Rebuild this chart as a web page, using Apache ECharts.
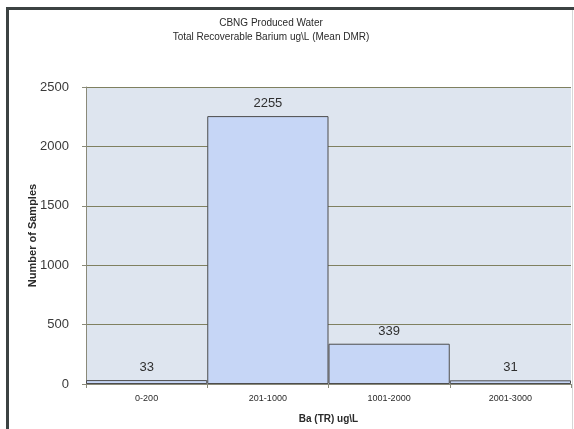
<!DOCTYPE html>
<html>
<head>
<meta charset="utf-8">
<script src="https://cdn.jsdelivr.net/npm/echarts@6/dist/echarts.min.js"></script>
<style>
  html, body { margin: 0; padding: 0; background: #ffffff; }
  #chart { width: 574px; height: 429px; }
</style>
</head>
<body>
<div id="chart"></div>
<script>
// Barium concentration bins and sample counts
const categories = ['0-200', '201-1000', '1001-2000', '2001-3000'];
const sampleCounts = [33, 2255, 339, 31];
const yTicks = { min: 0, max: 2500, interval: 500 };

const titleLines = ['CBNG Produced Water', 'Total Recoverable Barium ug\\L (Mean DMR)'];
const xAxisTitle = 'Ba (TR) ug\\L';
const yAxisTitle = 'Number of Samples';

const chart = echarts.init(document.getElementById('chart'), null, { renderer: 'canvas' });

const font = '"Liberation Sans", Arial, sans-serif';

chart.setOption({
  animation: false,
  backgroundColor: '#ffffff',
  textStyle: { fontFamily: font },
  title: {
    text: titleLines.join('\n'),
    left: 266,
    top: 11,
    textAlign: 'center',
    textStyle: {
      fontFamily: font,
      fontSize: 10,
      fontWeight: 'normal',
      color: '#2a2a2a',
      lineHeight: 14
    }
  },
  graphic: [
    // page frame: top and left edges
    { type: 'rect', shape: { x: 6, y: 7, width: 568, height: 3 }, style: { fill: '#3c4242' }, silent: true },
    { type: 'rect', shape: { x: 6, y: 7, width: 3, height: 422 }, style: { fill: '#3c4242' }, silent: true },
    { type: 'rect', shape: { x: 572, y: 10, width: 1, height: 419 }, style: { fill: '#d6d6d6' }, silent: true }
  ],
  grid: {
    left: 86,
    right: 3,
    top: 87,
    bottom: 45,
    show: true,
    backgroundColor: '#dee5ef',
    borderWidth: 0
  },
  xAxis: {
    type: 'category',
    data: categories,
    name: xAxisTitle,
    nameLocation: 'middle',
    nameGap: 30,
    nameMoveOverlap: false,
    nameTextStyle: { fontFamily: font, fontSize: 10, fontWeight: 'bold', color: '#2a2a2a' },
    axisLine: { show: true, lineStyle: { color: '#8a8a7a', width: 1 } },
    axisTick: { show: true, alignWithLabel: false, length: 4, lineStyle: { color: '#8a8a7a' } },
    axisLabel: { fontFamily: font, fontSize: 9, color: '#2a2a2a', margin: 10 },
    splitLine: { show: false }
  },
  yAxis: {
    type: 'value',
    min: yTicks.min,
    max: yTicks.max,
    interval: yTicks.interval,
    name: yAxisTitle,
    nameLocation: 'middle',
    nameGap: 48,
    nameMoveOverlap: false,
    nameTextStyle: { fontFamily: font, fontSize: 11, fontWeight: 'bold', color: '#2a2a2a' },
    axisLine: { show: true, lineStyle: { color: '#8a8a7a', width: 1 } },
    axisTick: { show: true, length: 4, lineStyle: { color: '#8a8a7a' } },
    axisLabel: {
      fontFamily: font,
      fontSize: 13,
      color: '#3a3a3a',
      margin: 17,
      formatter: function (v) { return String(v); }
    },
    splitLine: { show: true, lineStyle: { color: '#7f8060', width: 1 } }
  },
  series: [{
    type: 'bar',
    data: sampleCounts,
    barWidth: '100%',
    barCategoryGap: '0%',
    itemStyle: {
      color: '#c6d6f6',
      borderColor: '#4d4d4d',
      borderWidth: 1
    },
    label: {
      show: true,
      position: 'top',
      distance: 6,
      fontFamily: font,
      fontSize: 13,
      color: '#2f2f2f'
    }
  }]
});
</script>
</body>
</html>
